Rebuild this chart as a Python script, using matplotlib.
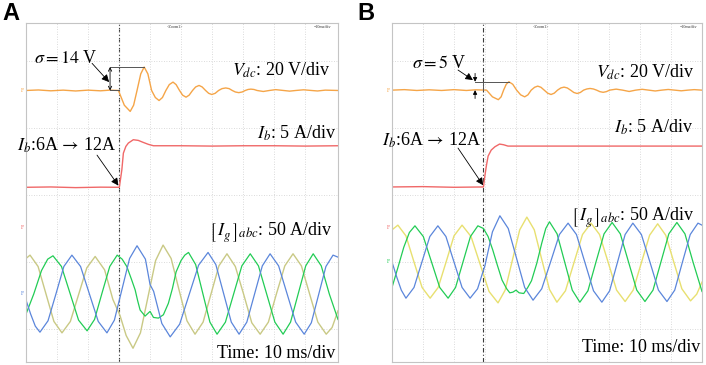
import numpy as np
import matplotlib
matplotlib.use("Agg")
import matplotlib.pyplot as plt

plt.rcParams["font.family"] = ["Liberation Serif", "DejaVu Serif"]
plt.rcParams["mathtext.fontset"] = "stix"

# ---------------------------------------------------------------
# Scope readings, (time in ms, value)
# ---------------------------------------------------------------
VDC_PER_DIV = 20   # V/div
IB_PER_DIV = 5     # A/div
IG_PER_DIV = 50    # A/div

# --- case A ---
A_VDC = [(0, 0.0), (4, 0.3), (8, -0.2), (12, 0.2), (16, -0.3), (20, 0.2), (24, -0.2), (27, 0.2),
         (29.8, 0.0), (31.7, -8.8), (33.6, -12.5), (34.7, -8.8), (35.8, 0), (37.0, 9.9), (38.1, 14.0),
         (39.3, 9.9), (40.5, 0), (41.7, -4.2), (42.9, -6.0), (44.0, -4.2), (45.1, 0), (46.2, 3.5),
         (47.4, 5.0), (48.4, 3.5), (49.5, 0), (50.5, -2.8), (51.6, -4.0), (52.6, -2.8), (53.7, 0),
         (54.7, 2.1), (55.8, 3.0), (56.8, 2.1), (57.9, 0), (58.9, -1.7), (59.9, -2.4), (61.0, -1.7),
         (62.1, 0), (63.2, 1.1), (64.4, 1.5), (65.5, 1.1), (66.5, 0), (67.5, -0.9), (68.6, -1.3),
         (69.7, -0.9), (70.7, 0), (71.6, 0.6), (72.5, 0.8), (73.5, 0.6), (74.5, 0), (76.5, -0.6),
         (78.5, 0), (80.5, 0.5), (83, 0), (85, -0.4), (87, 0), (89.5, 0.4), (92, 0), (94, -0.3),
         (96.5, 0.2), (100.6, 0)]

A_IB = [(0, 6.0), (8, 6.05), (16, 5.95), (24, 6.02), (30.1, 6.0), (30.9, 8.6), (31.4, 11.1),
        (32.2, 12.1), (33.0, 12.6), (34.6, 13.1), (36.2, 13.0), (37.8, 12.7), (39.5, 12.4),
        (41.1, 12.2), (50, 12.2), (60, 12.15), (70, 12.2), (80, 12.2), (90, 12.15), (100.6, 12.2)]

A_IG_A = [(0, 53), (1.3, 58), (3.9, 41), (6.45, 0), (9.0, -41), (11.6, -58), (14.3, -41),
          (16.95, -1), (19.6, 39), (22.3, 56), (25.35, 36), (28.0, -8), (30.3, -32), (32.3, -62),
          (34.5, -81), (36.9, -58), (39.35, -4), (41.8, 50), (44.2, 73), (46.8, 53), (49.35, 6),
          (51.9, -40), (54.5, -60), (57.1, -42), (59.65, 0), (62.2, 42), (64.8, 60), (67.5, 41),
          (70.15, 0), (72.8, -43), (75.5, -60), (78.15, -42), (80.8, 1), (83.45, 42), (86.1, 60),
          (88.8, 42), (91.45, 0), (94.1, -42), (96.8, -60), (98.7, -50), (100.6, -25)]

A_IG_B = [(0, -30), (2.5, 0), (5.0, 35), (7.0, 52), (8.7, 57), (11.45, 41), (14.2, 1), (16.95, -39),
          (19.7, -55), (22.1, -38), (24.55, 2), (27.0, 41), (29.4, 58), (31.0, 52), (32.5, 41),
          (34.0, 22), (35.2, 6), (36.0, -10), (36.8, -24), (38.4, -33), (39.3, -29), (40.0, -26),
          (41.1, -35), (42.7, -36), (44.3, -31), (45.9, -14), (47.2, 8), (48.4, 33), (50.0, 50),
          (51.2, 58), (52.4, 62), (54.7, 44), (57.0, 1), (59.3, -42), (61.6, -60), (64.3, -42),
          (66.95, 0), (69.6, 42), (72.3, 60), (74.95, 42), (77.6, 0), (80.25, -42), (82.9, -60),
          (85.3, -42), (87.75, 0), (90.2, 42), (92.6, 60), (95.2, 42), (97.8, 0), (100.6, -38)]

A_IG_C = [(0, -9), (1.5, -30), (3.0, -48), (4.5, -57), (7.1, -40), (9.65, 0), (12.2, 41), (14.8, 58),
          (17.6, 41), (20.45, 0), (23.3, -41), (26.1, -58), (28.5, -39), (30.95, 7), (33.4, 53),
          (35.8, 72), (38.5, 52), (40.0, 14), (41.15, 4), (43.8, -44), (46.5, -64), (49.55, -45),
          (52.6, -1), (55.65, 43), (58.7, 62), (61.2, 44), (63.7, 1), (66.2, -42), (68.7, -60),
          (71.2, -42), (73.7, 0), (76.2, 42), (78.7, 60), (81.45, 42), (84.2, 0), (86.95, -42),
          (89.7, -60), (92.0, -43), (94.35, -1), (96.7, 41), (99.0, 58), (100.6, 55)]

# --- case B ---
B_VDC = [(0, 0), (4, 0.3), (8, -0.2), (12, 0.2), (16, -0.2), (20, 0.3), (24, -0.2), (27, 0.2),
         (30.5, 0), (32.4, -4.0), (34.3, -5.7), (35.2, -4.0), (36.0, 0), (36.85, 3.5), (37.7, 5.0),
         (38.95, 3.5), (40.2, 0), (41.5, -2.8), (42.8, -4.0), (43.85, -2.8), (44.9, 0), (46.0, 1.7),
         (47.0, 2.4), (48.05, 1.7), (49.1, 0), (50.2, -1.8), (51.3, -2.6), (52.35, -1.8), (53.4, 0),
         (54.45, 1.3), (55.5, 1.8), (56.55, 1.3), (57.6, 0), (58.65, -1.4), (59.7, -2.0),
         (60.75, -1.4), (61.8, 0), (62.85, 0.7), (63.9, 1.0), (64.95, 0.7), (66.0, 0), (67.05, -0.9),
         (68.1, -1.3), (69.15, -0.9), (70.2, 0), (72.3, 0.6), (74.4, 0), (76.5, -0.8), (78.6, 0),
         (80.7, 0.5), (82.8, 0), (84.9, -0.5), (87, 0), (89.1, 0.4), (91.2, 0), (93.3, -0.4),
         (95.4, 0), (97.5, 0.3), (100, 0)]

B_IB = [(0, 6.0), (10, 6.05), (20, 5.95), (29.5, 6.0), (30.0, 7.8), (30.5, 9.3), (31.0, 10.6),
        (32.0, 11.5), (33.2, 12.0), (34.7, 12.4), (36.0, 12.3), (37.4, 12.1), (45, 12.1),
        (60, 12.1), (80, 12.1), (100, 12.1)]

B_IG_A = [(0, 48), (1.9, 55), (4.5, 39), (7.1, 0), (9.7, -38), (12.3, -54), (14.9, -38), (17.45, 0),
          (20.0, 39), (22.6, 55), (25.5, 38), (28.4, -3), (31.3, -44), (34.2, -61), (36.5, -42),
          (38.85, 3), (41.2, 48), (43.5, 67), (45.9, 48), (48.35, 3), (50.8, -41), (53.2, -60),
          (55.95, -43), (58.7, -1), (61.45, 41), (64.2, 58), (66.95, 41), (69.7, 0), (72.45, -42),
          (75.2, -59), (77.8, -42), (80.45, -1), (83.1, 40), (85.7, 57), (88.3, 40), (90.9, 0),
          (93.5, -40), (96.3, -58), (98.3, -48), (100, -30)]

B_IG_B = [(0, -38), (1.8, -10), (3.8, 22), (5.6, 44), (7.4, 54), (10.1, 38), (12.75, 0), (15.4, -38),
          (18.1, -54), (20.5, -38), (22.9, 0), (25.3, 38), (27.7, 54), (29.5, 50), (31.0, 38),
          (32.5, 18), (34.0, -5), (35.5, -27), (37.0, -40), (38.0, -46), (39.0, -45), (40.0, -42),
          (41.0, -46), (42.5, -47), (43.8, -38), (45.0, -28), (46.7, -2), (48.3, 28), (49.6, 50),
          (50.8, 60), (53.25, 42), (55.7, 0), (58.15, -42), (60.6, -60), (63.2, -43), (65.8, 0),
          (68.4, 42), (71.0, 59), (73.65, 42), (76.3, 0), (78.95, -42), (81.6, -59), (84.2, -42),
          (86.75, 0), (89.3, 42), (91.9, 59), (94.5, 42), (97.1, 0), (100, -44)]

B_IG_C = [(0, 0), (1.5, -22), (3.0, -42), (4.5, -54), (7.1, -38), (9.65, 0), (12.2, 38), (14.8, 54),
          (17.4, 38), (20.0, 0), (22.6, -38), (25.2, -54), (27.6, -40), (30.0, -5), (32.4, 45),
          (34.8, 69), (37.5, 50), (40.15, 6), (42.8, -38), (45.5, -57), (48.3, -40), (51.15, 0),
          (54.0, 41), (56.8, 58), (59.5, 41), (62.25, -1), (65.0, -43), (67.7, -60), (70.2, -43),
          (72.7, -1), (75.2, 41), (77.7, 58), (80.45, 41), (83.2, 0), (85.95, -42), (88.7, -59),
          (91.2, -42), (93.7, 0), (96.2, 41), (98.7, 58), (100, 55)]

SIGMA_A = 14   # V overshoot
SIGMA_B = 5

# ---------------------------------------------------------------
# screen layout (divisions) and colours
# ---------------------------------------------------------------
YLIM = (-0.985, 9.134)
COL_VDC = "#f5a548"
COL_IB = "#f06868"
COL_GREEN = "#22cc55"
COL_BLUE = "#5b86db"
COL_YEL_A = "#c9c985"
COL_YEL_B = "#e8e070"
FS = 13
IG_LABEL = r"$\left[\,I_{g}^{\,}{}_{\,}\right]_{abc}$: 50 A/div"


def trace(ax, pts, offset, per_div, color, lw=0.9):
    t, v = np.array(pts, dtype=float).T
    ax.plot(t, offset + v / per_div, color=color, lw=lw, solid_joinstyle="round")


def screen(ax, xmax, trig):
    ax.set_xlim(0, xmax)
    ax.set_ylim(*YLIM)
    ax.set_xticks(np.arange(10, 100, 10))
    ax.set_yticks([0, 2, 4, 6, 8])
    ax.grid(True, color="#cfcfcf", lw=0.6, ls=(0, (1, 2)))
    ax.tick_params(length=0, labelbottom=False, labelleft=False)
    for s in ax.spines.values():
        s.set_color("#c4c4c4")
        s.set_linewidth(0.8)
    ax.axvline(trig, color="#3a3a3a", lw=0.8, ls=(0, (4, 2, 1, 2)), zorder=1)


def arrow(ax, xy, xytext, head="-|>", ms=10):
    ax.annotate("", xy=xy, xytext=xytext,
                arrowprops=dict(arrowstyle=head, color="black", lw=0.6, mutation_scale=ms,
                                shrinkA=0, shrinkB=0))


fig = plt.figure(figsize=(7.06, 3.65), dpi=100)
axA = fig.add_axes([26 / 706, 3 / 365, 312 / 706, 339 / 365])
axB = fig.add_axes([392 / 706, 3 / 365, 310 / 706, 339 / 365])

# ---------------- panel A ----------------
vA, ibA, igA = 7.12, 3.03, 1.045
screen(axA, 100.6, 30.0)
trace(axA, A_IG_A, igA, IG_PER_DIV, COL_YEL_A, 1.0)
trace(axA, A_IG_B, igA, IG_PER_DIV, COL_GREEN)
trace(axA, A_IG_C, igA, IG_PER_DIV, COL_BLUE)
trace(axA, A_IB, ibA, IB_PER_DIV, COL_IB, 1.0)
trace(axA, A_VDC, vA, VDC_PER_DIV, COL_VDC, 1.0)

peakA = vA + SIGMA_A / VDC_PER_DIV
axA.plot([27.1, 38.1], [peakA, peakA], color="#555555", lw=0.7)
axA.plot([27.1, 30.0], [vA, vA], color="#555555", lw=0.7)
arrow(axA, (27.1, peakA), (27.1, vA), head="<->", ms=6)
arrow(axA, (26.8, 7.37), (21.3, 7.93), ms=11)
axA.text(2.6, 8.06, r"$\sigma = 14$ V", fontsize=FS, va="center", ha="left")
axA.text(98.1, 7.73, r"$V_{dc}$: 20 V/div", fontsize=FS, va="center", ha="right")
axA.text(99.9, 5.85, r"$I_b$: 5 A/div", fontsize=FS, va="center", ha="right")
axA.text(-3.0, 5.49, r"$I_b$:6A$\,\rightarrow\,$12A", fontsize=FS, va="center", ha="left",
         clip_on=False)
arrow(axA, (29.8, ibA + 6.0 / IB_PER_DIV + 0.05), (22.9, 5.19), ms=11)
axA.text(99.0, 2.87, IG_LABEL, fontsize=FS, va="center", ha="right")
axA.text(99.7, -0.72, "Time: 10 ms/div", fontsize=FS, va="center", ha="right")

# ---------------- panel B ----------------
vB, ibB, igB = 7.13, 3.04, 2.0
screen(axB, 100, 29.5)
trace(axB, B_IG_A, igB, IG_PER_DIV, COL_YEL_B, 1.0)
trace(axB, B_IG_B, igB, IG_PER_DIV, COL_GREEN)
trace(axB, B_IG_C, igB, IG_PER_DIV, COL_BLUE)
trace(axB, B_IB, ibB, IB_PER_DIV, COL_IB, 1.0)
trace(axB, B_VDC, vB, VDC_PER_DIV, COL_VDC, 1.0)

peakB = vB + SIGMA_B / VDC_PER_DIV
axB.plot([26.8, 37.7], [peakB, peakB], color="#555555", lw=0.7)
axB.plot([29.5, 29.5], [vB, peakB], color="#555555", lw=0.7)
arrow(axB, (26.8, peakB), (26.8, peakB + 0.25), ms=6)
arrow(axB, (26.8, vB), (26.8, vB - 0.25), ms=6)
arrow(axB, (26.1, 7.43), (21.3, 7.73), ms=11)
axB.text(6.3, 7.94, r"$\sigma = 5$ V", fontsize=FS, va="center", ha="left")
axB.text(97.7, 7.67, r"$V_{dc}$: 20 V/div", fontsize=FS, va="center", ha="right")
axB.text(97.1, 6.03, r"$I_b$: 5 A/div", fontsize=FS, va="center", ha="right")
axB.text(-3.3, 5.64, r"$I_b$:6A$\,\rightarrow\,$12A", fontsize=FS, va="center", ha="left",
         clip_on=False)
arrow(axB, (29.4, ibB + 6.0 / IB_PER_DIV + 0.05), (21.3, 5.40), ms=11)
axB.text(97.7, 3.34, IG_LABEL, fontsize=FS, va="center", ha="right")
axB.text(99.4, -0.54, "Time: 10 ms/div", fontsize=FS, va="center", ha="right")

# small scope readouts and channel markers
for ax in (axA, axB):
    ax.text(48, 9.0, "<Zoom1>", fontsize=3, ha="center", va="center", color="#333333")
    ax.text(98.5, 9.0, "=10ms/div", fontsize=3, ha="right", va="center", color="#333333")
for ax, offs, cols in ((axA, (vA, ibA, igA), (COL_VDC, COL_IB, COL_BLUE)),
                       (axB, (vB, ibB, igB), (COL_VDC, COL_IB, COL_GREEN))):
    for off, c in zip(offs, cols):
        ax.text(-0.6, off, "F", fontsize=4, color=c, ha="right", va="center", clip_on=False)

fig.text(2 / 706, 1 - 2 / 365, "A", fontsize=17, fontweight="bold", family="Liberation Sans",
         ha="left", va="top")
fig.text(357 / 706, 1 - 2 / 365, "B", fontsize=17, fontweight="bold", family="Liberation Sans",
         ha="left", va="top")

fig.savefig("out.png", dpi=100)
